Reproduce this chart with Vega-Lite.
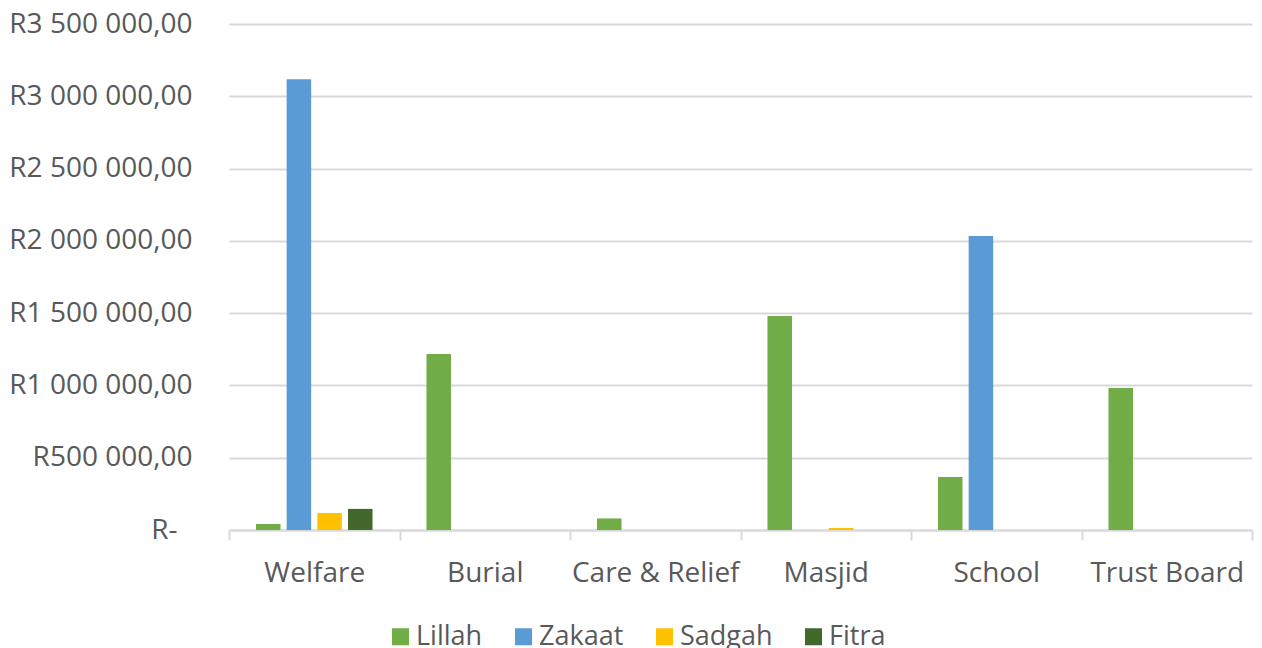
{
  "$schema": "https://vega.github.io/schema/vega-lite/v6.json",
  "autosize": {"type": "none"},
  "padding": {"left": 229, "top": 24, "right": 10, "bottom": 118},
  "width": 1023,
  "height": 506,
  "background": "white",
  "data": {
    "values": [
      {"category": "Welfare", "fund": "Lillah", "amount": 42000},
      {"category": "Welfare", "fund": "Zakaat", "amount": 3118000},
      {"category": "Welfare", "fund": "Sadgah", "amount": 118000},
      {"category": "Welfare", "fund": "Fitra", "amount": 146000},
      {"category": "Burial", "fund": "Lillah", "amount": 1218000},
      {"category": "Care & Relief", "fund": "Lillah", "amount": 80000},
      {"category": "Masjid", "fund": "Lillah", "amount": 1480000},
      {"category": "Masjid", "fund": "Sadgah", "amount": 14000},
      {"category": "School", "fund": "Lillah", "amount": 367000},
      {"category": "School", "fund": "Zakaat", "amount": 2033000},
      {"category": "Trust Board", "fund": "Lillah", "amount": 982000}
    ]
  },
  "mark": {"type": "bar"},
  "encoding": {
    "x": {
      "field": "category",
      "type": "nominal",
      "sort": ["Welfare", "Burial", "Care & Relief", "Masjid", "School", "Trust Board"],
      "scale": {"domain": ["Welfare", "Burial", "Care & Relief", "Masjid", "School", "Trust Board"], "paddingInner": 0, "paddingOuter": 0},
      "axis": {
        "title": null,
        "labelAngle": 0,
        "labelFont": "Open Sans",
        "labelFontSize": 28,
        "labelColor": "#595959",
        "labelPadding": 19,
        "labelLimit": 400,
        "labelOverlap": false,
        "domainColor": "#d9d9d9",
        "domainWidth": 2,
        "tickBand": "extent",
        "tickColor": "#d9d9d9",
        "tickWidth": 2,
        "tickSize": 10,
        "grid": false
      }
    },
    "xOffset": {
      "field": "fund",
      "type": "nominal",
      "scale": {"domain": ["Lillah", "Zakaat", "Sadgah", "Fitra"], "paddingInner": 0.2, "paddingOuter": 0.88}
    },
    "y": {
      "field": "amount",
      "type": "quantitative",
      "scale": {"domain": [0, 3500000], "nice": false},
      "axis": {
        "title": null,
        "values": [0, 500000, 1000000, 1500000, 2000000, 2500000, 3000000, 3500000],
        "labelExpr": "datum.value == 0 ? 'R-' : 'R' + replace(replace(format(datum.value, ',.2f'), regexp(',', 'g'), ' '), '.', ',')",
        "labelFont": "Open Sans",
        "labelFontSize": 28,
        "labelColor": "#595959",
        "labelLimit": 400,
        "labelPadding": {"condition": {"test": "datum.value == 0", "value": 52}, "value": 37},
        "tickSize": 0,
        "ticks": false,
        "domain": false,
        "grid": true,
        "gridColor": "#d9d9d9",
        "gridWidth": 2
      }
    },
    "color": {
      "field": "fund",
      "type": "nominal",
      "scale": {"domain": ["Lillah", "Zakaat", "Sadgah", "Fitra"], "range": ["#70ad47", "#5b9bd5", "#ffc000", "#43682b"]},
      "legend": {
        "title": null,
        "orient": "none",
        "direction": "horizontal",
        "legendX": 158,
        "legendY": 599,
        "symbolType": "square",
        "symbolSize": 289,
        "symbolStrokeWidth": 0,
        "labelFont": "Open Sans",
        "labelFontSize": 27,
        "labelColor": "#595959",
        "labelOffset": 2,
        "columnPadding": 27
      }
    }
  },
  "config": {"view": {"stroke": null}}
}
